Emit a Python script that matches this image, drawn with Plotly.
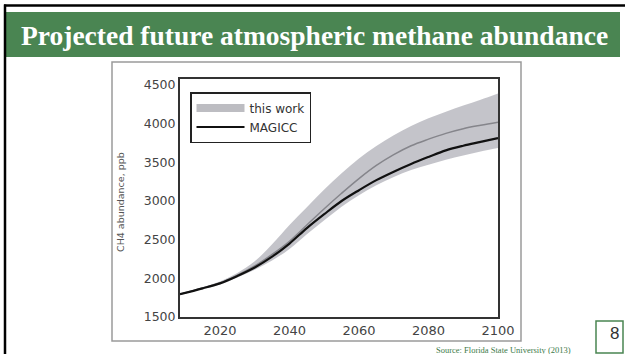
import plotly.graph_objects as go

# ---- data ----
years = [2008.5, 2015, 2020, 2025, 2030, 2035, 2040, 2045, 2050, 2055,
         2060, 2065, 2070, 2075, 2080, 2085, 2090, 2095, 2100]
magicc = [1795, 1870, 1935, 2030, 2140, 2280, 2450, 2650, 2830, 3000,
          3140, 3270, 3380, 3480, 3570, 3655, 3715, 3765, 3815]
this_work = [1795, 1875, 1940, 2040, 2160, 2310, 2480, 2690, 2900, 3100,
             3290, 3460, 3600, 3715, 3800, 3875, 3935, 3980, 4020]
band_upper = [1800, 1885, 1960, 2070, 2220, 2440, 2690, 2920, 3150, 3360,
              3550, 3710, 3850, 3970, 4070, 4155, 4235, 4310, 4390]
band_lower = [1790, 1860, 1920, 2010, 2110, 2230, 2380, 2570, 2750, 2925,
              3075, 3205, 3310, 3400, 3470, 3535, 3590, 3640, 3685]
x_ticks = [2020, 2040, 2060, 2080, 2100]
y_ticks = [1500, 2000, 2500, 3000, 3500, 4000, 4500]

title = "Projected future atmospheric methane abundance"
source = "Source: Florida State University (2013)"
page_no = "8"

# ---- layout geometry (pixels) ----
W, H = 625, 354
L, R, T, B = 180, 498, 79, 317
PW, PH = R - L, B - T


def px(x):
    return (x - L) / PW


def py(y):
    return (B - y) / PH


GREEN = "#4a8552"

fig = go.Figure()

fig.add_trace(go.Scatter(x=years, y=band_lower, mode="lines",
                         line=dict(width=0, shape="spline"),
                         showlegend=False, hoverinfo="skip"))
fig.add_trace(go.Scatter(x=years, y=band_upper, mode="lines",
                         line=dict(width=0, shape="spline"), fill="tonexty",
                         fillcolor="rgba(190,190,196,0.9)",
                         showlegend=False, hoverinfo="skip"))
fig.add_trace(go.Scatter(x=years, y=this_work, mode="lines",
                         line=dict(color="#85858b", width=1.5, shape="spline"),
                         showlegend=False))
fig.add_trace(go.Scatter(x=years, y=magicc, mode="lines",
                         line=dict(color="#111111", width=2.2, shape="spline"),
                         showlegend=False))
# legend entries
fig.add_trace(go.Scatter(x=[None], y=[None], mode="lines", name="this work",
                         line=dict(color="#bdbdc2", width=8)))
fig.add_trace(go.Scatter(x=[None], y=[None], mode="lines", name="MAGICC",
                         line=dict(color="#111111", width=2.2)))

shapes = [
    # green header
    dict(type="rect", xref="paper", yref="paper", x0=px(6), x1=px(620),
         y0=py(57), y1=py(12), fillcolor=GREEN, line=dict(width=0), layer="below"),
    # black slide border
    dict(type="line", xref="paper", yref="paper", x0=px(4), x1=px(627),
         y0=py(5.5), y1=py(5.5), line=dict(color="black", width=2.5)),
    dict(type="line", xref="paper", yref="paper", x0=px(5), x1=px(5),
         y0=py(4.5), y1=py(358), line=dict(color="black", width=2.5)),
    # image frame
    dict(type="rect", xref="paper", yref="paper", x0=px(112), x1=px(521),
         y0=py(341), y1=py(62), line=dict(color="#9a9a9a", width=1.5)),
    # page number box
    dict(type="rect", xref="paper", yref="paper", x0=px(596), x1=px(623),
         y0=py(353), y1=py(321), line=dict(color=GREEN, width=1.5)),
]

annotations = [
    dict(text="<b>" + title + "</b>", xref="paper", yref="paper",
         x=px(19), y=py(36), xanchor="left", yanchor="middle", showarrow=False,
         font=dict(family="Liberation Serif", size=27.5, color="white")),
    dict(text=source, xref="paper", yref="paper", x=px(503), y=py(350),
         xanchor="center", yanchor="middle", showarrow=False,
         font=dict(family="Liberation Serif", size=8.5, color="#3d7a48")),
    dict(text=page_no, xref="paper", yref="paper", x=px(614), y=py(333),
         xanchor="center", yanchor="middle", showarrow=False,
         font=dict(family="Liberation Sans", size=17, color="#333333")),
    dict(text="CH4 abundance, ppb", xref="paper", yref="paper", x=px(120),
         y=py(202), xanchor="center", yanchor="middle", textangle=-90,
         showarrow=False,
         font=dict(family="DejaVu Sans", size=9.5, color="#555555")),
]

fig.update_layout(
    width=W, height=H,
    margin=dict(l=L, r=W - R, t=T, b=H - B, pad=0),
    paper_bgcolor="white", plot_bgcolor="white",
    shapes=shapes, annotations=annotations,
    showlegend=True,
    legend=dict(x=px(190), y=py(92), xanchor="left", yanchor="top",
                traceorder="normal",
                bgcolor="white", bordercolor="#222222", borderwidth=1.5,
                font=dict(family="DejaVu Sans", size=12, color="#333333"),
                itemwidth=48),
    xaxis=dict(range=[2008.5, 2100], tickvals=x_ticks, showgrid=False,
               zeroline=False, showline=True, linecolor="#333333", linewidth=2,
               mirror=True, ticks="",
               tickfont=dict(family="DejaVu Sans", size=13, color="#444444")),
    yaxis=dict(range=[1500, 4578], tickvals=y_ticks, showgrid=False,
               zeroline=False, showline=True, linecolor="#333333", linewidth=2,
               mirror=True, ticks="",
               tickfont=dict(family="DejaVu Sans", size=12.5, color="#444444")),
)

fig.write_html("out.html")
